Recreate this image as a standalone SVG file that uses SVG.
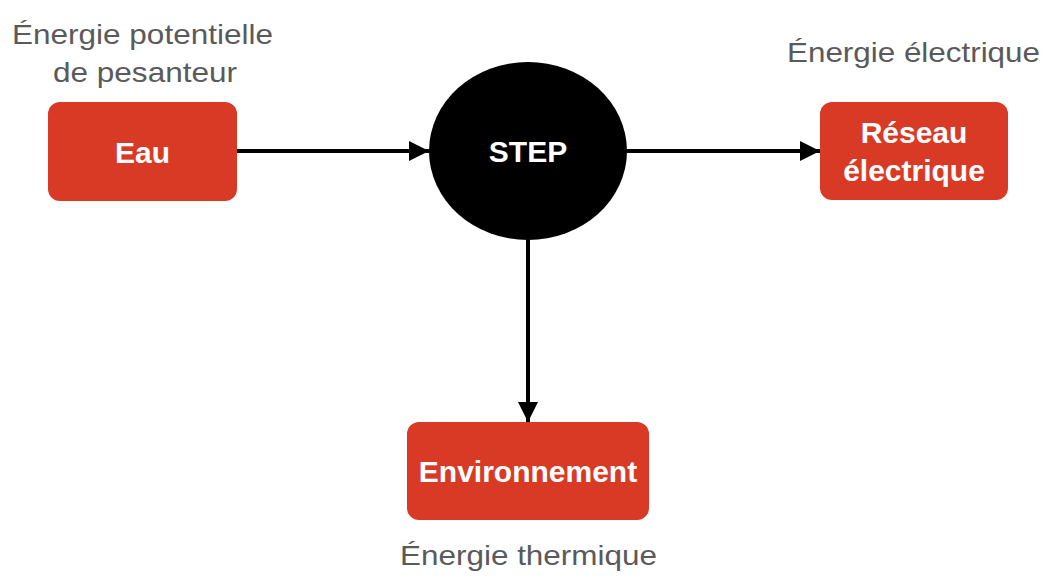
<svg xmlns="http://www.w3.org/2000/svg" width="1054" height="583" viewBox="0 0 1054 583">
  <style>
    .box { fill: #D93A26; }
    .btxt { font-family: "Liberation Sans", Arial, sans-serif; font-weight: bold; font-size: 30px; fill: #ffffff; text-anchor: middle; }
    .lbl { font-family: "Liberation Sans", Arial, sans-serif; font-size: 28px; fill: #5a5a5a; text-anchor: middle; }
    .edge { stroke: #000; stroke-width: 4; fill: none; }
  </style>
  <defs>
    <marker id="arr" markerUnits="userSpaceOnUse" markerWidth="22" markerHeight="22" refX="20" refY="10" orient="auto">
      <path d="M0,0 L20,10 L0,20 Z" fill="#000"/>
    </marker>
  </defs>
  <rect width="1054" height="583" fill="#ffffff"/>
  <g id="connectors">
    <line class="edge" x1="237" y1="151" x2="429" y2="151" marker-end="url(#arr)"/>
    <line class="edge" x1="627" y1="151" x2="820" y2="151" marker-end="url(#arr)"/>
    <line class="edge" x1="528" y1="240" x2="528" y2="422" marker-end="url(#arr)"/>
  </g>
  <g id="eau">
    <text class="lbl" x="142.5" y="44" textLength="261" lengthAdjust="spacingAndGlyphs">Énergie potentielle</text>
    <text class="lbl" x="145" y="82" textLength="184" lengthAdjust="spacingAndGlyphs">de pesanteur</text>
    <rect class="box" x="48" y="102" width="189" height="99" rx="12"/>
    <text class="btxt" x="142.5" y="163">Eau</text>
  </g>
  <g id="step">
    <ellipse cx="528" cy="151" rx="99" ry="89" fill="#000"/>
    <text class="btxt" x="528" y="162">STEP</text>
  </g>
  <g id="reseau">
    <text class="lbl" x="913.5" y="62" textLength="253" lengthAdjust="spacingAndGlyphs">Énergie électrique</text>
    <rect class="box" x="820" y="102" width="188" height="98" rx="12"/>
    <text class="btxt" x="914" y="143">Réseau</text>
    <text class="btxt" x="914" y="181">électrique</text>
  </g>
  <g id="environnement">
    <rect class="box" x="407" y="422" width="242" height="98" rx="12"/>
    <text class="btxt" x="528" y="482">Environnement</text>
    <text class="lbl" x="528.5" y="565" textLength="257" lengthAdjust="spacingAndGlyphs">Énergie thermique</text>
  </g>
</svg>
